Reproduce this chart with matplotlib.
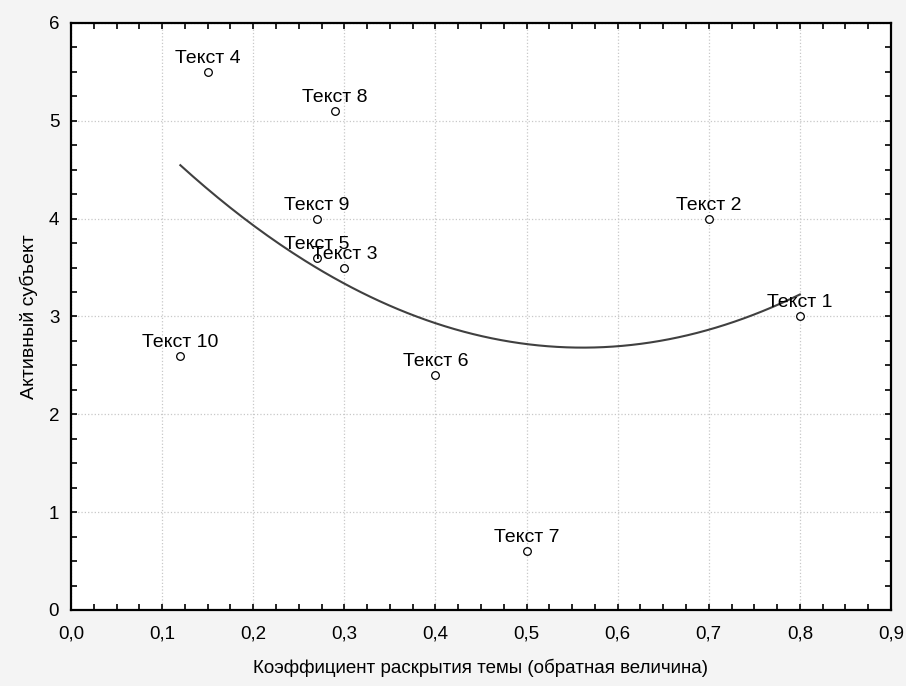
import numpy as np
import matplotlib.pyplot as plt
from matplotlib.ticker import MultipleLocator, FuncFormatter

plt.rcParams['font.family'] = ['Liberation Sans', 'DejaVu Sans']

# Data
labels = ['Текст 1', 'Текст 2', 'Текст 3', 'Текст 4', 'Текст 5',
          'Текст 6', 'Текст 7', 'Текст 8', 'Текст 9', 'Текст 10']
coef = [0.80, 0.70, 0.30, 0.15, 0.27, 0.40, 0.50, 0.29, 0.27, 0.12]
subj = [3.0, 4.0, 3.5, 5.5, 3.6, 2.4, 0.6, 5.1, 4.0, 2.6]

fig = plt.figure(figsize=(9.06, 6.86), dpi=100, facecolor='#f4f4f4')
ax = fig.add_axes([0.0784, 0.1108, 0.905, 0.8557])
ax.set_facecolor('white')

# quadratic fit
p = np.polyfit(coef, subj, 2)
xf = np.linspace(min(coef), max(coef), 200)
ax.plot(xf, np.polyval(p, xf), color='#404040', lw=1.5, zorder=2)

ax.plot(coef, subj, 'o', ms=5.5, mfc='white', mec='black', mew=0.9, zorder=3)
for lab, x, y in zip(labels, coef, subj):
    ax.annotate(lab, (x, y), xytext=(0, 6.5), textcoords='offset points',
                ha='center', va='baseline', fontsize=14)

ax.set_xlim(0, 0.9)
ax.set_ylim(0, 6)
ax.xaxis.set_major_locator(MultipleLocator(0.1))
ax.xaxis.set_minor_locator(MultipleLocator(0.025))
ax.yaxis.set_major_locator(MultipleLocator(1))
ax.yaxis.set_minor_locator(MultipleLocator(0.25))
ax.xaxis.set_major_formatter(FuncFormatter(lambda v, _: f'{v:.1f}'.replace('.', ',')))
ax.yaxis.set_major_formatter(FuncFormatter(lambda v, _: f'{v:.0f}'))

ax.grid(True, which='major', color='#c8c8c8', linestyle=':', lw=0.9)
ax.tick_params(which='both', direction='in', top=True, right=True,
               length=4, width=1.2, labelsize=13.5)
ax.tick_params(axis='x', pad=11)
ax.tick_params(axis='y', pad=8.5)
for s in ax.spines.values():
    s.set_linewidth(1.6)

ax.set_xlabel('Коэффициент раскрытия темы (обратная величина)', fontsize=13.5, labelpad=12)
ax.set_ylabel('Активный субъект', fontsize=14, labelpad=8)

fig.savefig('out.png', dpi=100, facecolor=fig.get_facecolor())
